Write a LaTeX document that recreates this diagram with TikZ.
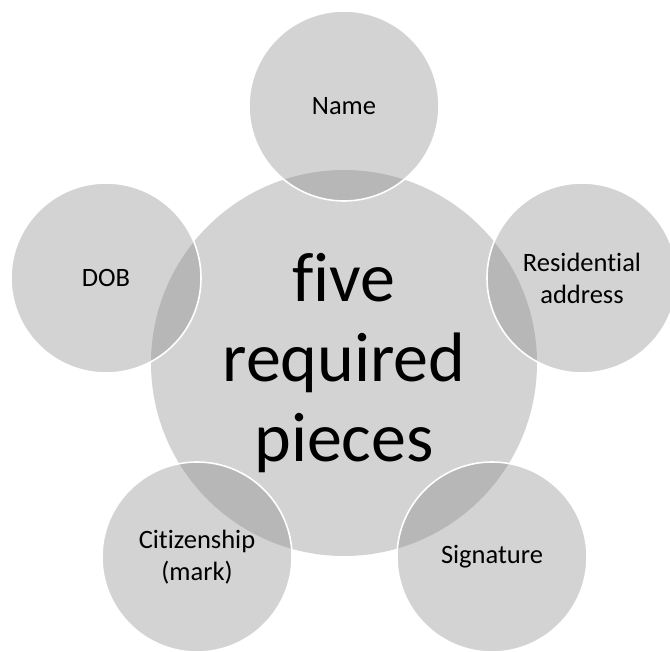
\documentclass[tikz,border=0pt]{standalone}
\usepackage{fontspec}
\setmainfont{Carlito}[Ligatures=NoCommon]
\definecolor{discgray}{RGB}{141,141,141}
\tikzset{
  disc/.style={circle, inner sep=0pt, fill=discgray, fill opacity=0.39,
    text opacity=1, text=black, align=center},
  hub/.style={disc, draw=none, minimum size=386pt,
    font=\fontsize{70}{80}\selectfont},
  spoke/.style={disc, draw=white, line width=1.6pt, minimum size=190pt,
    font=\fontsize{26.5}{32}\selectfont}
}
\begin{document}
\begin{tikzpicture}[x=1pt,y=-1pt]
  \useasboundingbox (0,0) rectangle (670,652);
  % central disc
  \node[hub] (core) at (344,363) {five\\required\\pieces};
  % surrounding discs
  \node[spoke] (name) at (344,106) {Name};
  \node[spoke] (addr) at (582,278) {Residential\\address};
  \node[spoke] (dob)  at (106,278) {DOB};
  \node[spoke] (cit)  at (197,557) {Citizenship\\(mark)};
  \node[spoke] (sig)  at (492,557) {Signature};
\end{tikzpicture}
\end{document}
